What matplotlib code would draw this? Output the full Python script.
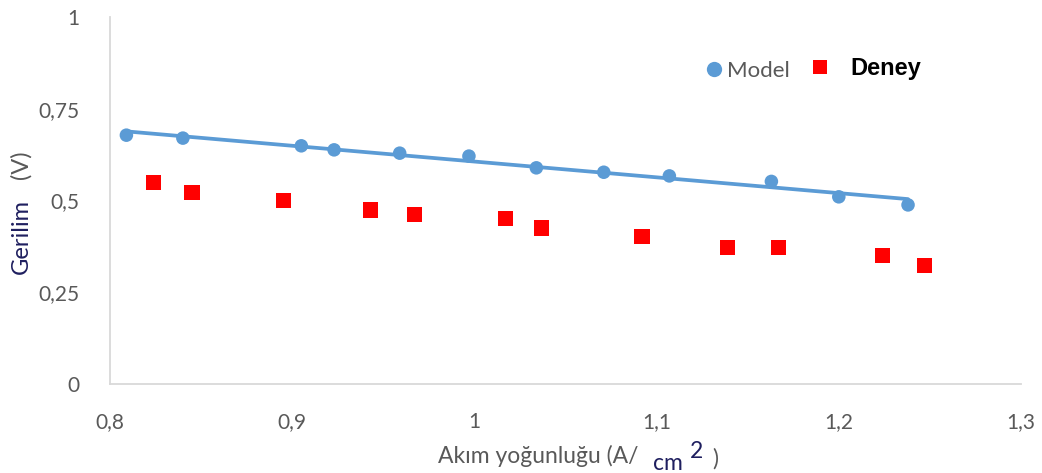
import numpy as np
import matplotlib
matplotlib.use("Agg")
import matplotlib.pyplot as plt
from matplotlib.lines import Line2D
from matplotlib.ticker import FixedLocator, FuncFormatter

# Current density (A/cm^2) and cell voltage (V)
model_x = [0.809, 0.840, 0.905, 0.923, 0.959, 0.997, 1.034, 1.071, 1.107, 1.163, 1.200, 1.238]
model_y = [0.678, 0.670, 0.649, 0.638, 0.629, 0.621, 0.589, 0.577, 0.567, 0.552, 0.510, 0.488]

deney_x = [0.824, 0.845, 0.895, 0.943, 0.967, 1.017, 1.037, 1.092, 1.139, 1.167, 1.224, 1.247]
deney_y = [0.550, 0.523, 0.499, 0.474, 0.463, 0.450, 0.425, 0.403, 0.373, 0.373, 0.349, 0.324]

x_ticks = [0.8, 0.9, 1.0, 1.1, 1.2, 1.3]
y_ticks = [0, 0.25, 0.5, 0.75, 1.0]

W, H = 1042, 473
fig = plt.figure(figsize=(W / 100, H / 100), dpi=100)
ax = fig.add_axes([110 / W, (H - 384) / H, (1021 - 110) / W, (384 - 17) / H])

blue = "#5b9bd5"
red = "#ff0000"
grey = "#595959"
navy = "#1f1f5f"
font = "Lato"

# Linear trendline through the model points
coef = np.polyfit(model_x, model_y, 1)
tx = np.array([min(model_x), max(model_x)])
ax.plot(tx, np.polyval(coef, tx), color=blue, lw=2.7, solid_capstyle="round", zorder=2)
ax.scatter(model_x, model_y, s=95, marker="o", color=blue, edgecolors="none", zorder=3)
ax.scatter(deney_x, deney_y, s=118, marker="s", color=red, edgecolors="none", zorder=3)

ax.set_xlim(0.8, 1.3)
ax.set_ylim(0, 1)
ax.xaxis.set_major_locator(FixedLocator(x_ticks))
ax.yaxis.set_major_locator(FixedLocator(y_ticks))


def comma_fmt(v, pos):
    s = f"{v:.2f}".rstrip("0").rstrip(".")
    return s.replace(".", ",")


ax.xaxis.set_major_formatter(FuncFormatter(comma_fmt))
ax.yaxis.set_major_formatter(FuncFormatter(comma_fmt))
ax.tick_params(axis="both", length=0, colors=grey, labelsize=15)
ax.tick_params(axis="x", pad=20)
ax.tick_params(axis="y", pad=22)
for lbl in ax.get_xticklabels() + ax.get_yticklabels():
    lbl.set_fontfamily(font)

for side in ("top", "right"):
    ax.spines[side].set_visible(False)
for side in ("left", "bottom"):
    ax.spines[side].set_color("#d9d9d9")
    ax.spines[side].set_linewidth(1.3)

# Axis titles with mixed colours
fig.text(21 / W, 1 - 237 / H, "Gerilim", rotation=90, color=navy, fontsize=17,
         family=font, ha="center", va="center")
fig.text(21 / W, 1 - 165 / H, "(V)", rotation=90, color=grey, fontsize=17,
         family=font, ha="center", va="center")

fig.text(438 / W, 1 - 463 / H, "Akım yoğunluğu (A/", color=grey, fontsize=16.5,
         family=font, ha="left", va="baseline")
fig.text(653 / W, 1 - 470 / H, "cm", color=navy, fontsize=16.5,
         family=font, ha="left", va="baseline")
fig.text(690 / W, 1 - 458 / H, "2", color=navy, fontsize=16.5,
         family=font, ha="left", va="baseline")
fig.text(712 / W, 1 - 466 / H, ")", color=grey, fontsize=16.5,
         family=font, ha="left", va="baseline")

# Legend: one entry per legend so each keeps its own spacing
fs_model, fs_deney = 16, 17
px_model = fs_model * 100 / 72
px_deney = fs_deney * 100 / 72
h_len = 0.6

leg1 = fig.legend(
    [Line2D([], [], marker="o", ls="none", color=blue, markersize=11, markeredgewidth=0)],
    ["Model"], frameon=False, loc="center left",
    bbox_to_anchor=((714 - h_len * px_model / 2) / W, 1 - 71 / H),
    handlelength=h_len, handletextpad=(727 - 714 - h_len * px_model / 2) / px_model,
    borderaxespad=0, borderpad=0, fontsize=fs_model)
leg1.get_texts()[0].set_color(grey)
leg1.get_texts()[0].set_fontfamily(font)

leg2 = fig.legend(
    [Line2D([], [], marker="s", ls="none", color=red, markersize=10, markeredgewidth=0)],
    ["Deney"], frameon=False, loc="center left",
    bbox_to_anchor=((820 - h_len * px_deney / 2) / W, 1 - 69 / H),
    handlelength=h_len, handletextpad=(850 - 820 - h_len * px_deney / 2) / px_deney,
    borderaxespad=0, borderpad=0, fontsize=fs_deney)
t = leg2.get_texts()[0]
t.set_color("black")
t.set_fontfamily("Liberation Sans")
t.set_fontweight("bold")

fig.savefig("out.png", dpi=100)
